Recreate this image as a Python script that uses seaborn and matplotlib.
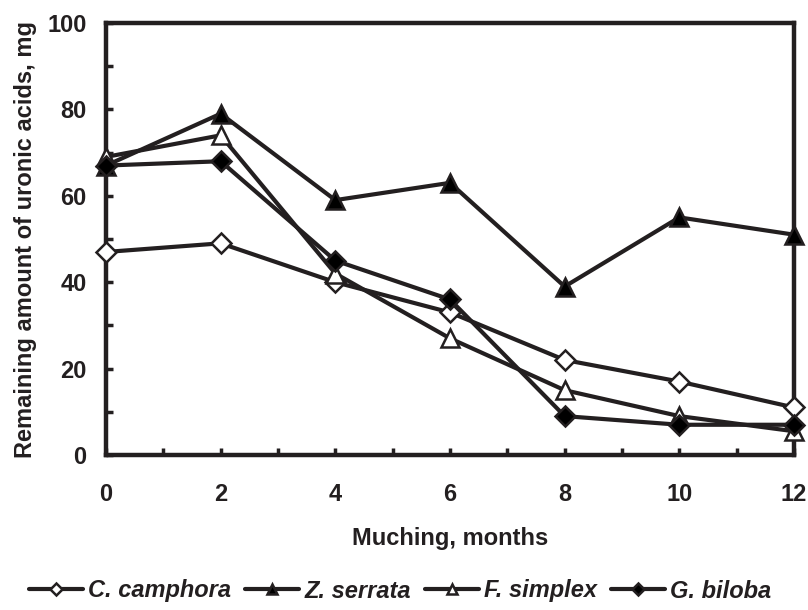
import numpy as np
import pandas as pd
import seaborn as sns
import matplotlib.pyplot as plt
from matplotlib.ticker import MultipleLocator

# Data
months = [0, 2, 4, 6, 8, 10, 12]
c_camphora = [47, 49, 40, 33, 22, 17, 11]
z_serrata = [67, 79, 59, 63, 39, 55, 51]
f_simplex = [69, 74, 42, 27, 15, 9, 5.5]
g_biloba = [67, 68, 45, 36, 9, 7, 7]

series_names = ["C. camphora", "Z. serrata", "F. simplex", "G. biloba"]
series_values = [c_camphora, z_serrata, f_simplex, g_biloba]

sns.set_style("ticks")
plt.rcParams["font.family"] = ["Liberation Sans", "DejaVu Sans"]
plt.rcParams["font.weight"] = "bold"

ink = "#231f20"

# marker style per series: (marker, face colour, size)
styles = {
    "C. camphora": ("D", "white", 10.5),
    "Z. serrata": ("^", "black", 13),
    "F. simplex": ("^", "white", 13),
    "G. biloba": ("D", "black", 10.5),
}

fig = plt.figure(figsize=(8.08, 6.10), dpi=100)
ax = fig.add_axes([106 / 808, 1 - 455 / 610, (794 - 106) / 808, (455 - 23) / 610])

for name, vals in zip(series_names, series_values):
    df = pd.DataFrame({"month": months, "value": vals})
    m, fc, ms = styles[name]
    sns.lineplot(data=df, x="month", y="value", ax=ax, color=ink,
                 linewidth=3.0, marker=m, markersize=ms,
                 markerfacecolor=fc, markeredgecolor=ink,
                 markeredgewidth=1.8, label=name, clip_on=False, zorder=3)

ax.set_xlim(0, 12)
ax.set_ylim(0, 100)
ax.xaxis.set_major_locator(MultipleLocator(2))
ax.xaxis.set_minor_locator(MultipleLocator(1))
ax.yaxis.set_major_locator(MultipleLocator(20))
ax.yaxis.set_minor_locator(MultipleLocator(10))

for side in ["left", "right", "top", "bottom"]:
    ax.spines[side].set_linewidth(3.2)
    ax.spines[side].set_color(ink)

ax.tick_params(axis="both", which="both", direction="in", length=5,
               width=2.5, color=ink, labelsize=17)
ax.tick_params(axis="both", which="both", top=False, right=False)
ax.tick_params(axis="y", which="major", pad=14)
ax.tick_params(axis="x", which="major", pad=20)
for lab in ax.get_xticklabels() + ax.get_yticklabels():
    lab.set_fontweight("bold")
    lab.set_color(ink)

ax.set_xlabel("Muching, months", fontsize=17, fontweight="bold",
              color=ink, labelpad=15)
ax.set_ylabel("Remaining amount of uronic acids, mg", fontsize=17,
              fontweight="bold", color=ink, labelpad=7)

ax.get_legend().remove()
handles, labels = ax.get_legend_handles_labels()
fig.legend(handles, labels, loc="center", bbox_to_anchor=(400 / 808, 1 - 591 / 610),
           ncol=4, frameon=False, handlelength=2.3, handletextpad=0.2,
           columnspacing=0.6, markerscale=0.6,
           prop={"size": 17, "weight": "bold", "style": "italic"},
           labelcolor=ink)

fig.savefig("out.png", dpi=100, facecolor="white")
